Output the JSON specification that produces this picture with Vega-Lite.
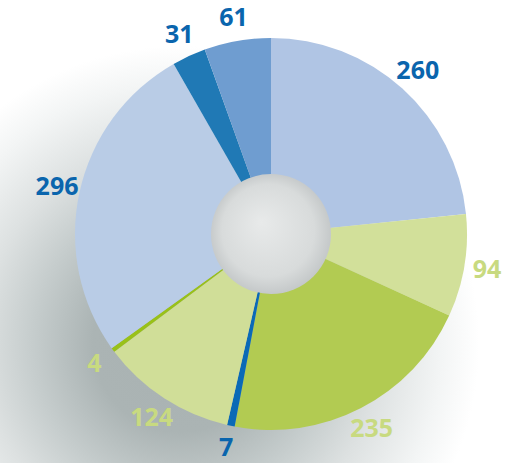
{
  "$schema": "https://vega.github.io/schema/vega-lite/v6.json",
  "width": 392,
  "height": 392,
  "autosize": "none",
  "padding": {"left": 75, "top": 38, "right": 48, "bottom": 33},
  "background": "white",
  "view": {"stroke": null},
  "data": {
    "values": [
      {"id": 1, "value": 260, "group": "blue"},
      {"id": 2, "value": 94, "group": "green"},
      {"id": 3, "value": 235, "group": "green"},
      {"id": 4, "value": 7, "group": "blue"},
      {"id": 5, "value": 124, "group": "green"},
      {"id": 6, "value": 4, "group": "green"},
      {"id": 7, "value": 296, "group": "blue"},
      {"id": 8, "value": 31, "group": "blue"},
      {"id": 9, "value": 61, "group": "blue"}
    ]
  },
  "layer": [
    {
      "data": {"values": [{"part": "shadow"}]},
      "mark": {
        "type": "arc",
        "outerRadius": 420,
        "innerRadius": 0,
        "theta": 0,
        "theta2": 6.2832,
        "fill": {
          "gradient": "radial",
          "x1": 0.393, "y1": 0.631, "r1": 0,
          "x2": 0.393, "y2": 0.631, "r2": 0.5,
          "stops": [
            {"offset": 0, "color": "#a9b2b2"},
            {"offset": 0.21, "color": "#abb4b4"},
            {"offset": 0.357, "color": "#c6cdcd"},
            {"offset": 0.476, "color": "#dde1e1"},
            {"offset": 0.62, "color": "#f3f5f5"},
            {"offset": 0.71, "color": "#ffffff"},
            {"offset": 1, "color": "#ffffff"}
          ]
        }
      },
      "encoding": {}
    },
    {
      "mark": {"type": "arc", "outerRadius": 196, "innerRadius": 0},
      "encoding": {
        "theta": {"field": "value", "type": "quantitative", "stack": true},
        "order": {"field": "id", "type": "quantitative"},
        "color": {
          "field": "id",
          "type": "nominal",
          "scale": {
            "domain": [1, 2, 3, 4, 5, 6, 7, 8, 9],
            "range": ["#b0c5e4", "#d2e09a", "#b2cb52", "#0a6ab6", "#d0de98", "#99c118", "#b9cce6", "#2079b5", "#6f9dd0"]
          },
          "legend": null
        }
      }
    },
    {
      "mark": {"type": "text", "radius": 219, "fontSize": 25, "fontWeight": "bold", "font": "Open Sans"},
      "encoding": {
        "theta": {"field": "value", "type": "quantitative", "stack": true},
        "order": {"field": "id", "type": "quantitative"},
        "text": {"field": "value", "type": "quantitative"},
        "color": {
          "field": "group",
          "type": "nominal",
          "scale": {"domain": ["blue", "green"], "range": ["#0a65ad", "#c8da80"]},
          "legend": null
        }
      }
    },
    {
      "data": {"values": [{"part": "hub"}]},
      "mark": {
        "type": "arc",
        "outerRadius": 60,
        "innerRadius": 0,
        "theta": 0,
        "theta2": 6.2832,
        "fill": {
          "gradient": "radial",
          "x1": 0.42, "y1": 0.4, "r1": 0,
          "x2": 0.5, "y2": 0.5, "r2": 0.55,
          "stops": [
            {"offset": 0, "color": "#e8eaea"},
            {"offset": 0.7, "color": "#d8dbdb"},
            {"offset": 1, "color": "#bec2c3"}
          ]
        }
      },
      "encoding": {}
    }
  ],
  "resolve": {"scale": {"color": "independent", "theta": "independent"}}
}
